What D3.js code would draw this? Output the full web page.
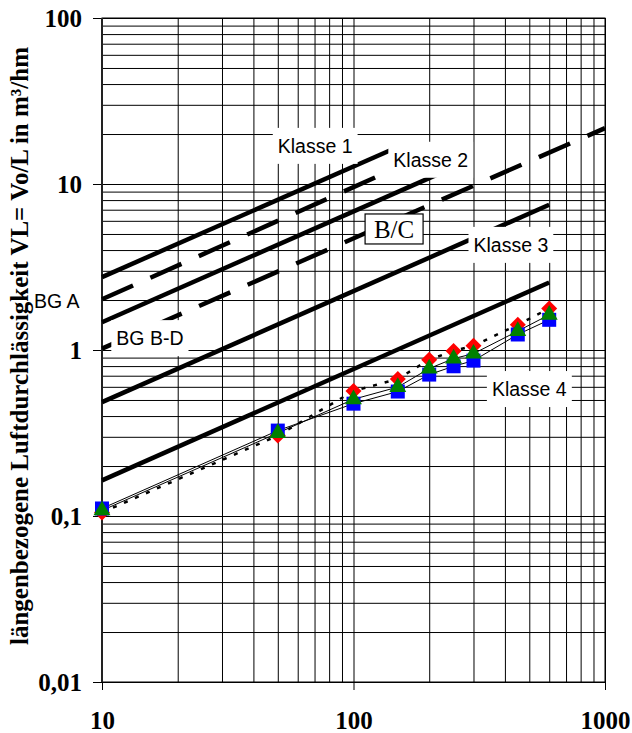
<!DOCTYPE html>
<html>
<head>
<meta charset="utf-8">
<script src="https://cdn.jsdelivr.net/npm/d3@7"></script>
<style>
  body { margin: 0; background: #fff; }
  svg { display: block; }
</style>
</head>
<body>
<script>
const width = 632;
const height = 733;
const margin = {top: 18, right: 27, bottom: 51, left: 102};
const plotW = width - margin.left - margin.right;
const plotH = height - margin.top - margin.bottom;

// Grenzlinien: Anfangs- und Endpunkt [Länge, VL]
const klasse1 = [[10, 2.75], [150, 16.7]];
const klasse2 = [[10, 1.47], [250, 12.6]];
const klasse3 = [[10, 0.485], [600, 7.5]];
const klasse4 = [[10, 0.164], [600, 2.55]];
const bgA = [[10, 2.02], [150, 12.6]];
const bgBD = [[10, 1.02], [1000, 21.7]];

// Messreihen
const lengths = [10, 50, 100, 150, 200, 250, 300, 450, 600];
const seriesRed = [0.105, 0.305, 0.566, 0.669, 0.875, 0.986, 1.06, 1.42, 1.78];
const seriesBlue = [0.111, 0.327, 0.475, 0.562, 0.711, 0.798, 0.863, 1.24, 1.52];
const seriesGreen = [0.108, 0.316, 0.505, 0.598, 0.773, 0.888, 0.95, 1.30, 1.63];

const xTicks = [10, 100, 1000];
const xTickLabels = ["10", "100", "1000"];
const yTicks = [0.01, 0.1, 1, 10, 100];
const yTickLabels = ["0,01", "0,1", "1", "10", "100"];

const lineLabels = ["Klasse 1", "Klasse 2", "Klasse 3", "Klasse 4", "BG A", "BG B-D"];
const boxLabel = "B/C";
const yTitle = "längenbezogene Luftdurchlässigkeit VL= Vo/L in m³/hm";

const serif = "'Liberation Serif', 'Times New Roman', serif";
const sans = "'Liberation Sans', Arial, sans-serif";

const x = d3.scaleLog()
      .domain([10, 1000])
      .range([margin.left, width - margin.right]);

const y = d3.scaleLog()
      .domain([0.01, 100])
      .range([height - margin.bottom, margin.top]);

const svg = d3.select("body")
      .append("svg")
      .attr("width", width)
      .attr("height", height);

// Gitter
svg.append("g")
      .attr("transform", `translate(0, ${margin.top})`)
      .call(d3.axisBottom(x).tickValues(x.ticks()).tickSize(plotH).tickFormat(""))
      .call(g => g.select(".domain").remove())
      .selectAll(".tick line")
            .attr("stroke", "#000");

svg.append("g")
      .attr("transform", `translate(${margin.left}, 0)`)
      .call(d3.axisRight(y).tickValues(y.ticks()).tickSize(plotW).tickFormat(""))
      .call(g => g.select(".domain").remove())
      .selectAll(".tick line")
            .attr("stroke", "#000");

// Achsen
const yAxis = svg.append("g")
      .attr("transform", `translate(${margin.left}, 0)`)
      .call(d3.axisLeft(y).tickValues(yTicks).tickSize(9).tickPadding(11)
            .tickFormat((d, i) => yTickLabels[i]));

const xAxis = svg.append("g")
      .attr("transform", `translate(0, ${height - margin.bottom})`)
      .call(d3.axisBottom(x).tickValues(xTicks).tickSize(8).tickPadding(21)
            .tickFormat((d, i) => xTickLabels[i]));

[xAxis, yAxis].forEach(g => {
      g.select(".domain").remove();
      g.selectAll("text")
            .attr("fill", "#000")
            .style("font-family", serif)
            .style("font-weight", "bold")
            .style("font-size", "25px");
});

svg.append("rect")
      .attr("x", margin.left)
      .attr("y", margin.top)
      .attr("width", plotW)
      .attr("height", plotH)
      .attr("fill", "none")
      .attr("stroke", "#000");

svg.append("line")
      .attr("x1", margin.left).attr("x2", margin.left)
      .attr("y1", margin.top).attr("y2", height - margin.bottom)
      .attr("stroke", "#222")
      .attr("stroke-width", 2);

// Grenzlinien
const line = d3.line()
      .x(d => x(d[0]))
      .y(d => y(d[1]));

[klasse1, klasse2, klasse3, klasse4].forEach(data => {
      svg.append("path")
            .datum(data)
            .attr("fill", "none")
            .attr("stroke", "#000")
            .attr("stroke-width", 4.5)
            .attr("d", line);
});

[bgA, bgBD].forEach(data => {
      svg.append("path")
            .datum(data)
            .attr("fill", "none")
            .attr("stroke", "#000")
            .attr("stroke-width", 4.5)
            .attr("stroke-dasharray", "34,19")
            .attr("d", line);
});

// Messreihen: Linien
const seriesLine = d3.line()
      .x((d, i) => x(lengths[i]))
      .y(d => y(d));

svg.append("path")
      .datum(seriesRed)
      .attr("fill", "none")
      .attr("stroke", "#000")
      .attr("stroke-width", 2.5)
      .attr("stroke-dasharray", "4,8")
      .attr("d", seriesLine);

[seriesBlue, seriesGreen].forEach(data => {
      svg.append("path")
            .datum(data)
            .attr("fill", "none")
            .attr("stroke", "#000")
            .attr("stroke-width", 1)
            .attr("d", seriesLine);
});

// Messreihen: Marker
function addMarkers(data, type, size, color, rotate) {
      svg.append("g")
            .selectAll("path")
            .data(data)
            .enter()
            .append("path")
            .attr("d", d3.symbol().type(type).size(size))
            .attr("transform", (d, i) => `translate(${x(lengths[i])}, ${y(d)}) rotate(${rotate})`)
            .attr("fill", color);
}

addMarkers(seriesRed, d3.symbolSquare, 128, "#ff0000", 45);
addMarkers(seriesBlue, d3.symbolSquare, 196, "#0000ff", 0);
addMarkers(seriesGreen, d3.symbolTriangle, 125, "#008000", 0);

// Beschriftungen
function addLabel(text, xv, yv, boxed) {
      const g = svg.append("g");
      const t = g.append("text")
            .attr("x", x(xv))
            .attr("y", y(yv))
            .attr("fill", "#000")
            .style("font-family", sans)
            .style("font-size", "19.5px")
            .text(text);
      if (boxed) {
            const b = t.node().getBBox();
            g.insert("rect", "text")
                  .attr("x", b.x - 5)
                  .attr("y", b.y - 7)
                  .attr("width", b.width + 10)
                  .attr("height", b.height + 14)
                  .attr("fill", "#fff");
      }
}

addLabel(lineLabels[0], 50, 15.4, true);
addLabel(lineLabels[1], 144, 12.7, true);
addLabel(lineLabels[2], 300, 3.9, true);
addLabel(lineLabels[3], 355, 0.528, true);
addLabel(lineLabels[4], 5.37, 1.79, false);
addLabel(lineLabels[5], 11.4, 1.07, true);

const bc = svg.append("g")
      .attr("transform", `translate(${x(145)}, ${y(4.73)})`);
bc.append("rect")
      .attr("x", -29)
      .attr("y", -24)
      .attr("width", 58)
      .attr("height", 30)
      .attr("fill", "#fff")
      .attr("stroke", "#000")
      .attr("stroke-width", 1.2);
bc.append("text")
      .attr("text-anchor", "middle")
      .style("font-family", serif)
      .style("font-size", "25px")
      .text(boxLabel);

svg.append("text")
      .attr("transform", `translate(28, ${(43 + 649) / 2}) rotate(-90)`)
      .attr("text-anchor", "middle")
      .attr("fill", "#000")
      .style("font-family", serif)
      .style("font-weight", "bold")
      .style("font-size", "25px")
      .text(yTitle);
</script>
</body>
</html>
